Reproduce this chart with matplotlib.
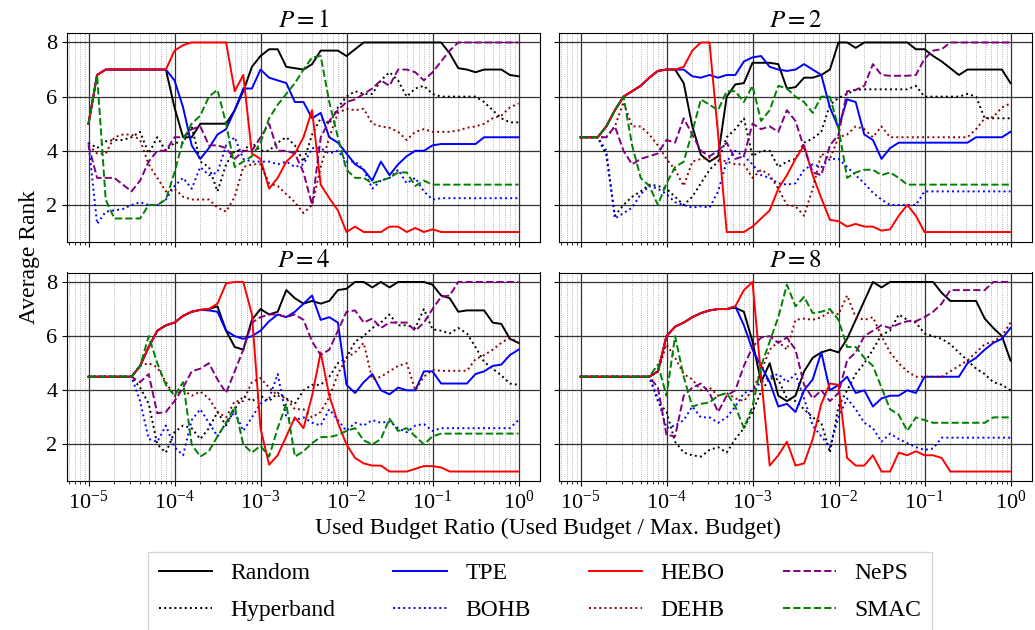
import numpy as np
import matplotlib.pyplot as plt
from matplotlib.ticker import LogLocator, NullFormatter

plt.rcParams['font.family'] = 'serif'
plt.rcParams['font.serif'] = ['Liberation Serif', 'DejaVu Serif']
plt.rcParams['mathtext.fontset'] = 'stix'

# checkpoints: log10 of used budget / max budget
log_ratio = [-5.0, -4.9, -4.8, -4.7, -4.6, -4.5, -4.4, -4.3, -4.2, -4.1,
             -4.0, -3.9, -3.8, -3.7, -3.6, -3.5, -3.4, -3.3, -3.2, -3.1,
             -3.0, -2.9, -2.8, -2.7, -2.6, -2.5, -2.4, -2.3, -2.2, -2.1,
             -2.0, -1.9, -1.8, -1.7, -1.6, -1.5, -1.4, -1.3, -1.2, -1.1,
             -1.0, -0.9, -0.8, -0.7, -0.6, -0.5, -0.4, -0.3, -0.2, -0.1, 0.0]

methods = ['Random', 'Hyperband', 'TPE', 'BOHB', 'HEBO', 'DEHB', 'NePS', 'SMAC']
colors = ['black', 'black', 'blue', 'blue', 'red', 'darkred', 'purple', 'green']
styles = ['-', ':', '-', ':', '-', ':', '--', '--']

# ---- P = 1 ----
p1_random = [5.0, 6.8, 7.0, 7.0, 7.0, 7.0, 7.0, 7.0, 7.0, 7.0,
             5.6, 4.5, 4.5, 5.0, 5.0, 5.0, 5.0, 5.5, 6.2, 7.1,
             7.5, 7.75, 7.75, 7.1, 7.05, 7.0, 7.2, 7.7, 7.7, 7.7,
             7.5, 7.75, 8.0, 8.0, 8.0, 8.0, 8.0, 8.0, 8.0, 8.0,
             8.0, 8.0, 7.6, 7.05, 7.0, 6.9, 7.0, 7.0, 7.0, 6.8, 6.75]
p1_hyperband = [4.3, 4.1, 4.35, 4.4, 4.4, 4.5, 4.7, 3.9, 4.5, 4.0,
                4.3, 4.3, 4.9, 3.6, 3.4, 2.5, 3.5, 4.0, 4.0, 4.3,
                4.0, 4.0, 4.3, 4.5, 4.2, 3.6, 4.6, 5.2, 5.0, 5.6,
                6.0, 6.2, 6.1, 6.1, 6.6, 6.9, 6.6, 6.0, 6.3, 6.4,
                6.1, 6.0, 6.0, 6.0, 6.0, 6.0, 5.8, 5.5, 5.2, 5.05, 5.05]
p1_tpe = [5.0, 6.8, 7.0, 7.0, 7.0, 7.0, 7.0, 7.0, 7.0, 7.0,
          6.6, 5.6, 4.2, 3.7, 4.1, 4.6, 4.8, 5.5, 6.3, 6.3,
          7.0, 6.7, 6.6, 6.5, 5.8, 5.8, 5.2, 5.4, 4.5, 4.3,
          3.9, 3.5, 3.3, 2.9, 3.6, 3.1, 3.5, 3.8, 4.0, 4.0,
          4.2, 4.25, 4.25, 4.25, 4.25, 4.25, 4.5, 4.5, 4.5, 4.5, 4.5]
p1_bohb = [4.3, 1.3, 1.75, 1.8, 1.85, 2.0, 2.1, 2.0, 2.0, 2.2,
           2.7, 3.0, 2.6, 3.4, 3.1, 3.2, 4.2, 4.5, 3.7, 3.6,
           3.6, 3.6, 3.5, 3.6, 3.4, 3.5, 4.1, 4.1, 3.9, 4.0,
           3.6, 3.6, 3.3, 2.6, 2.9, 3.0, 3.3, 2.8, 3.0, 2.5,
           2.2] + [2.25] * 10
p1_hebo = [5.0, 6.8, 7.0, 7.0, 7.0, 7.0, 7.0, 7.0, 7.0, 7.0,
           7.7, 7.9, 8.0, 8.0, 8.0, 8.0, 8.0, 6.2, 6.8, 3.9,
           3.7, 2.6, 3.0, 3.6, 3.9, 4.5, 5.5, 2.75, 2.25, 1.8,
           1.0, 1.2, 1.0, 1.0, 1.0, 1.2, 1.2, 1.0, 1.15, 1.0,
           1.1] + [1.0] * 10
p1_dehb = [4.2, 3.9, 3.9, 4.5, 4.6, 4.6, 4.4, 3.5, 3.0, 2.5,
           2.6, 2.3, 2.2, 2.2, 2.2, 1.9, 1.75, 2.3, 3.4, 3.5,
           3.5, 2.8, 2.7, 2.4, 2.1, 1.7, 2.0, 3.4, 4.5, 5.4,
           5.55, 5.5, 5.55, 5.0, 4.9, 4.85, 4.7, 4.4, 4.7, 4.8,
           4.7, 4.7, 4.7, 4.75, 4.85, 4.9, 5.0, 5.2, 5.3, 5.6, 5.75]
p1_neps = [4.2, 3.0, 3.0, 3.0, 2.75, 2.5, 2.9, 3.6, 4.0, 4.0,
           4.5, 4.5, 4.8, 4.9, 4.2, 4.2, 4.1, 3.7, 4.0, 4.0,
           4.5, 5.0, 4.0, 4.0, 3.9, 3.2, 2.0, 4.5, 5.1, 5.5,
           5.8, 5.9, 6.1, 6.3, 6.6, 6.4, 7.0, 7.0, 6.9, 6.6,
           6.9, 7.3, 7.7] + [8.0] * 8
p1_smac = [5.0, 6.8, 2.2, 1.5, 1.5, 1.5, 1.5, 2.0, 2.0, 2.2,
           3.2, 4.4, 5.0, 5.3, 6.0, 6.25, 5.0, 3.4, 3.6, 3.8,
           4.3, 5.2, 5.7, 6.1, 6.5, 7.0, 7.45, 7.5, 5.8, 4.5,
           3.3, 3.0, 3.0, 2.8, 2.9, 3.0, 3.2, 3.2, 2.7, 2.9] + [2.75] * 11

# ---- P = 2 ----
p2_random = [4.5, 4.5, 4.5, 4.9, 5.5, 6.0, 6.2, 6.4, 6.7, 6.95,
             7.0, 7.0, 6.5, 4.9, 3.85, 3.6, 3.8, 6.0, 6.45, 6.5,
             7.25, 7.25, 7.25, 7.2, 6.3, 6.35, 6.7, 6.7, 6.8, 7.0,
             8.0, 8.0, 7.8, 8.0, 8.0, 8.0, 8.0, 8.0, 8.0, 7.75,
             7.75, 7.5, 7.3, 7.05, 6.8, 7.0, 7.0, 7.0, 7.0, 7.0, 6.5]
p2_hyperband = [4.5, 4.5, 4.5, 3.85, 1.6, 2.0, 2.3, 2.5, 2.75, 2.7,
                2.6, 2.3, 2.0, 2.3, 2.8, 3.3, 3.6, 4.5, 4.8, 5.2,
                3.8, 4.0, 4.0, 3.4, 3.6, 3.7, 4.3, 4.45, 4.7, 5.7,
                5.95, 6.1, 6.25, 6.27, 6.27, 6.27, 6.27, 6.27, 6.27, 6.4,
                6.0, 6.0, 6.0, 6.0, 6.0, 6.1, 6.0, 5.2, 5.2, 5.2, 5.2]
p2_tpe = [4.5, 4.5, 4.5, 4.9, 5.5, 6.0, 6.2, 6.4, 6.7, 6.95,
          7.0, 7.0, 7.0, 6.75, 6.7, 6.8, 6.7, 6.8, 6.8, 7.3,
          7.45, 7.5, 7.1, 7.0, 6.95, 7.0, 7.2, 7.0, 6.8, 5.6,
          4.85, 5.9, 5.8, 4.6, 4.4, 3.7, 4.1, 4.3, 4.3, 4.3,
          4.3, 4.3, 4.3, 4.3, 4.3, 4.3, 4.5, 4.5, 4.5, 4.5, 4.7]
p2_bohb = [4.5, 4.5, 4.5, 4.0, 1.5, 1.7, 1.9, 2.4, 2.7, 2.6,
           2.4, 2.1, 2.0, 1.9, 1.95, 1.9, 2.5, 3.6, 4.0, 3.8,
           3.5, 3.1, 3.0, 2.8, 2.75, 2.8, 3.3, 3.5, 3.4, 3.7,
           3.7, 3.4, 3.1, 2.8, 2.45, 2.2, 2.0, 2.0, 2.0, 2.0] + [2.5] * 11
p2_hebo = [4.5, 4.5, 4.5, 4.9, 5.5, 6.0, 6.2, 6.4, 6.7, 6.95,
           7.0, 7.0, 7.1, 7.7, 8.0, 8.0, 4.6, 1.0, 1.0, 1.0,
           1.2, 1.5, 1.8, 2.6, 3.1, 3.7, 4.2, 3.1, 2.25, 1.45,
           1.4, 1.2, 1.3, 1.2, 1.2, 1.05, 1.1, 1.6, 2.0, 1.6] + [1.0] * 11
p2_dehb = [4.5, 4.5, 4.5, 4.5, 4.9, 5.8, 4.9, 4.9, 4.6, 4.2,
           3.7, 3.3, 2.7, 3.6, 3.7, 3.75, 3.7, 3.6, 3.5, 3.5,
           3.0, 3.3, 3.1, 2.6, 2.0, 1.95, 1.6, 2.6, 3.9, 3.7,
           4.5, 4.6, 4.9, 4.8, 4.5, 4.9, 4.5, 4.5, 4.5, 4.5,
           4.5, 4.5, 4.5, 4.5, 4.5, 4.5, 4.8, 5.2, 5.25, 5.6, 5.75]
p2_neps = [4.5, 4.5, 4.5, 4.5, 4.9, 4.0, 3.5, 3.7, 3.8, 3.9,
           4.4, 4.3, 5.2, 4.6, 4.0, 3.8, 4.0, 4.3, 3.7, 3.8,
           5.0, 4.8, 4.9, 4.7, 5.5, 5.1, 4.1, 3.2, 3.1, 4.2,
           4.6, 6.2, 6.25, 6.4, 7.2, 6.8, 6.77, 6.77, 6.77, 6.8,
           7.4, 7.7, 7.75] + [8.0] * 8
p2_smac = [4.5, 4.5, 4.5, 4.9, 5.5, 6.0, 4.2, 3.0, 2.7, 2.0,
           2.8, 3.4, 3.6, 4.7, 5.9, 5.7, 5.5, 6.2, 6.2, 5.8,
           6.4, 5.1, 5.5, 6.4, 6.3, 6.0, 5.8, 5.4, 6.0, 6.0,
           4.85, 3.0, 3.2, 3.3, 3.3, 3.1, 3.2, 3.0, 2.75] + [2.75] * 12

# ---- P = 4 ----
p4_random = [4.5, 4.5, 4.5, 4.5, 4.5, 4.5, 4.9, 5.6, 6.2, 6.4,
             6.5, 6.75, 6.9, 6.97, 7.0, 7.1, 6.2, 5.6, 5.5, 6.6,
             7.0, 6.8, 6.9, 7.7, 7.4, 7.2, 7.3, 7.2, 7.3, 7.7,
             7.75, 8.0, 8.0, 7.8, 8.0, 7.8, 8.0, 8.0, 8.0, 8.0,
             7.9, 7.5, 7.4, 6.9, 6.95, 6.95, 6.95, 6.5, 6.45, 5.9, 5.75]
p4_hyperband = [4.5, 4.5, 4.5, 4.5, 4.5, 4.5, 4.1, 3.5, 2.0, 1.7,
                2.45, 2.7, 2.6, 2.2, 2.6, 3.2, 2.7, 3.3, 3.8, 3.6,
                3.8, 3.6, 3.9, 3.7, 3.5, 4.0, 4.2, 4.2, 4.5, 5.0,
                5.2, 5.8, 6.0, 6.3, 6.5, 6.8, 6.4, 6.4, 6.3, 7.0,
                6.25, 6.2, 6.1, 6.3, 6.1, 5.6, 5.05, 4.8, 4.55, 4.25, 4.2]
p4_tpe = [4.5, 4.5, 4.5, 4.5, 4.5, 4.5, 4.9, 5.6, 6.2, 6.4,
          6.5, 6.75, 6.9, 6.97, 6.95, 6.9, 6.2, 6.0, 5.9, 6.0,
          6.2, 6.55, 6.8, 6.7, 6.9, 7.2, 7.5, 6.6, 6.7, 6.5,
          4.2, 3.9, 4.3, 4.6, 4.0, 3.85, 4.1, 4.0, 4.0, 4.7,
          4.7, 4.25, 4.25, 4.25, 4.25, 4.6, 4.7, 4.9, 4.95, 5.3, 5.5]
p4_bohb = [4.5, 4.5, 4.5, 4.5, 4.5, 4.5, 3.6, 2.2, 2.1, 2.7,
           1.9, 1.6, 2.9, 3.3, 2.8, 2.3, 2.8, 3.2, 2.5, 3.0,
           3.5, 3.7, 4.6, 3.0, 2.9, 3.0, 2.8, 2.7, 3.3, 2.9,
           2.5, 2.8, 2.7, 2.9, 2.8, 2.85, 2.6, 2.45, 2.7, 2.75,
           2.5] + [2.6] * 9 + [2.9]
p4_hebo = [4.5, 4.5, 4.5, 4.5, 4.5, 4.5, 4.9, 5.6, 6.2, 6.4,
           6.5, 6.75, 6.9, 6.97, 7.0, 7.2, 7.95, 8.0, 8.0, 6.8,
           2.6, 1.25, 1.6, 2.3, 3.0, 2.6, 3.8, 5.4, 3.8, 2.8,
           2.0, 1.5, 1.3, 1.22, 1.22, 1.0, 1.0, 1.0, 1.1, 1.2,
           1.2, 1.15] + [1.0] * 9
p4_dehb = [4.5, 4.5, 4.5, 4.5, 4.5, 4.5, 4.9, 5.0, 4.85, 4.3,
           3.8, 4.0, 3.8, 3.95, 3.7, 3.2, 3.0, 3.6, 3.6, 4.3,
           4.45, 4.1, 3.8, 3.7, 3.3, 3.3, 3.0, 3.2, 3.75, 4.6,
           5.2, 5.4, 5.75, 4.4, 4.5, 4.7, 4.9, 5.0, 4.0, 4.5,
           4.75, 4.72, 4.72, 4.72, 4.72, 5.15, 5.3, 5.5, 5.75, 5.95, 5.75]
p4_neps = [4.5, 4.5, 4.5, 4.5, 4.5, 4.5, 4.3, 4.6, 3.15, 3.2,
           3.6, 4.1, 4.7, 4.8, 5.0, 4.4, 3.9, 4.7, 5.5, 6.5,
           6.7, 6.8, 6.8, 6.7, 6.8, 6.6, 5.8, 5.3, 5.5, 6.2,
           6.9, 6.95, 6.5, 6.65, 6.3, 6.5, 6.5, 6.5, 6.2, 6.5,
           7.0, 7.45, 7.5] + [8.0] * 8
p4_smac = [4.5, 4.5, 4.5, 4.5, 4.5, 4.5, 4.9, 6.0, 5.0, 4.2,
           3.8, 4.3, 2.0, 1.55, 1.75, 2.3, 2.8, 3.4, 2.0, 1.7,
           1.95, 1.55, 2.6, 3.5, 1.55, 1.75, 2.05, 2.27, 2.27, 2.35,
           2.5, 2.6, 2.15, 2.0, 2.2, 2.95, 2.5, 2.6, 2.3, 2.0,
           2.3] + [2.4] * 10

# ---- P = 8 ----
p8_random = [4.5, 4.5, 4.5, 4.5, 4.5, 4.5, 4.5, 4.5, 4.5, 4.7,
             6.0, 6.35, 6.5, 6.7, 6.85, 6.95, 7.0, 7.0, 7.05, 6.9,
             5.8, 4.3, 5.0, 3.8, 3.6, 3.8, 4.7, 5.2, 5.4, 5.5,
             5.4, 5.9, 6.6, 7.3, 8.0, 7.8, 8.0, 8.0, 8.0, 8.0,
             8.0, 8.0, 7.6, 7.3, 7.3, 7.3, 7.3, 6.65, 6.3, 6.0, 5.1]
p8_hyperband = [4.5, 4.5, 4.5, 4.5, 4.5, 4.5, 4.5, 4.5, 4.5, 3.6,
                3.2, 2.1, 1.7, 1.6, 1.55, 1.8, 1.9, 1.7, 2.2, 2.6,
                3.2, 3.95, 4.45, 4.4, 3.7, 3.6, 3.3, 3.0, 2.8, 1.7,
                3.4, 4.0, 4.6, 5.0, 5.5, 6.05, 6.2, 6.8, 6.6, 6.5,
                6.1, 6.0, 5.9, 5.7, 5.4, 5.1, 4.8, 4.6, 4.3, 4.2, 4.0]
p8_tpe = [4.5, 4.5, 4.5, 4.5, 4.5, 4.5, 4.5, 4.5, 4.5, 4.7,
          6.0, 6.35, 6.5, 6.7, 6.85, 6.95, 7.0, 7.0, 7.1, 6.4,
          5.5, 4.9, 4.3, 3.4, 3.5, 3.2, 4.0, 4.4, 5.4, 4.0,
          4.2, 4.5, 3.9, 4.0, 3.4, 3.7, 3.8, 3.8, 4.0, 3.9,
          4.5, 4.5, 4.5, 4.5, 4.5, 5.0, 5.2, 5.5, 5.75, 5.9, 6.3]
p8_bohb = [4.5, 4.5, 4.5, 4.5, 4.5, 4.5, 4.5, 4.5, 4.5, 3.7,
           2.6, 2.7, 2.9, 3.4, 3.0, 3.0, 2.8, 3.0, 3.4, 3.9,
           4.0, 4.3, 4.5, 4.6, 4.3, 4.6, 3.7, 2.7, 2.3, 1.9,
           3.0, 3.7, 3.3, 2.8, 2.6, 2.1, 2.4, 2.2, 2.05, 1.9,
           1.8, 1.85] + [2.25] * 9
p8_hebo = [4.5, 4.5, 4.5, 4.5, 4.5, 4.5, 4.5, 4.5, 4.5, 4.7,
           6.0, 6.35, 6.5, 6.7, 6.85, 6.95, 7.0, 7.0, 7.1, 7.7,
           8.0, 4.5, 1.22, 1.6, 2.1, 1.22, 1.3, 2.2, 3.5, 4.25,
           4.2, 1.5, 1.22, 1.22, 1.6, 1.0, 1.0, 1.7, 1.6, 1.75,
           1.6, 1.6, 1.5] + [1.0] * 8
p8_dehb = [4.5, 4.5, 4.5, 4.5, 4.5, 4.5, 4.5, 4.5, 4.5, 4.7,
           5.7, 5.2, 4.6, 4.4, 4.0, 4.1, 3.8, 3.9, 3.7, 3.6,
           4.0, 4.7, 5.5, 5.8, 5.5, 6.6, 6.65, 6.6, 6.7, 6.9,
           6.8, 7.5, 6.7, 6.6, 6.7, 6.0, 5.4, 5.0, 4.7, 4.5,
           4.5, 4.5, 4.5, 4.7, 4.9, 5.1, 5.4, 5.7, 5.8, 6.0, 6.5]
p8_neps = [4.5, 4.5, 4.5, 4.5, 4.5, 4.5, 4.5, 4.5, 4.5, 4.1,
           2.35, 2.3, 3.8, 4.1, 4.25, 3.9, 3.2, 3.8, 4.0, 4.9,
           5.6, 5.95, 6.0, 5.75, 5.95, 5.5, 4.2, 3.7, 4.0, 3.6,
           3.9, 5.1, 5.4, 6.0, 6.2, 6.4, 6.3, 6.45, 6.55, 6.55,
           6.7, 6.9, 7.2, 7.7, 7.7, 7.7, 7.7, 7.7, 8.0, 8.0, 8.0]
p8_smac = [4.5, 4.5, 4.5, 4.5, 4.5, 4.5, 4.5, 4.5, 4.5, 4.95,
           3.8, 6.0, 4.5, 3.4, 3.5, 3.55, 3.8, 3.9, 3.4, 2.6,
           3.4, 4.9, 5.8, 6.7, 7.9, 7.1, 7.45, 6.85, 6.9, 7.0,
           6.6, 5.6, 5.6, 5.2, 4.9, 4.1, 3.3, 3.1, 2.5, 3.0,
           2.9] + [2.8] * 7 + [3.0] * 3

panels = [
    (1, [p1_random, p1_hyperband, p1_tpe, p1_bohb, p1_hebo, p1_dehb, p1_neps, p1_smac]),
    (2, [p2_random, p2_hyperband, p2_tpe, p2_bohb, p2_hebo, p2_dehb, p2_neps, p2_smac]),
    (4, [p4_random, p4_hyperband, p4_tpe, p4_bohb, p4_hebo, p4_dehb, p4_neps, p4_smac]),
    (8, [p8_random, p8_hyperband, p8_tpe, p8_bohb, p8_hebo, p8_dehb, p8_neps, p8_smac]),
]

budget = 10.0 ** np.array(log_ratio)

W, H = 1035, 630
fig = plt.figure(figsize=(W / 100, H / 100), dpi=100)

# axes boxes in pixels: left, top, right, bottom
boxes = [(67, 33, 540, 241.5), (559, 33, 1032, 241.5),
         (67, 272.5, 540, 481), (559, 272.5, 1032, 481)]

handles = None
for k, (p, series) in enumerate(panels):
    l, t, r, b = boxes[k]
    ax = fig.add_axes([l / W, 1 - b / H, (r - l) / W, (b - t) / H])
    lines = []
    for name, c, ls, vals in zip(methods, colors, styles, series):
        ln, = ax.plot(budget, vals, color=c, linestyle=ls, lw=1.4, label=name)
        lines.append(ln)
    if handles is None:
        handles = lines

    ax.set_xscale('log')
    ax.set_xlim(10 ** -5.25, 10 ** 0.25)
    ax.set_ylim(0.65, 8.35)
    ax.set_yticks([2, 4, 6, 8])
    ax.xaxis.set_major_locator(LogLocator(base=10, numticks=10))
    ax.xaxis.set_minor_locator(LogLocator(base=10, subs=np.arange(2, 10), numticks=100))
    ax.xaxis.set_minor_formatter(NullFormatter())
    ax.grid(True, which='major', color='0.2', lw=0.9)
    ax.grid(True, which='minor', axis='x', color='0.6', ls=':', lw=0.6)
    ax.tick_params(labelsize=16)
    ax.set_title(f'$P={p}$', fontsize=18, pad=4)
    if k < 2:
        ax.tick_params(labelbottom=False)
    if k % 2 == 1:
        ax.tick_params(labelleft=False)

fig.text(30 / W, 1 - 257 / H, 'Average Rank', rotation=90,
         ha='center', va='center', fontsize=17)
fig.text(548 / W, 1 - 528 / H, 'Used Budget Ratio (Used Budget / Max. Budget)',
         ha='center', va='center', fontsize=17)

fig.legend(handles, methods, loc='upper center', ncol=4,
           bbox_to_anchor=(540 / W, 1 - 552 / H), borderaxespad=0,
           fontsize=17, handlelength=2.25, columnspacing=2.45,
           labelspacing=0.65, borderpad=0.45,
           edgecolor='0.8', fancybox=False)

fig.savefig('out.png', dpi=100)
